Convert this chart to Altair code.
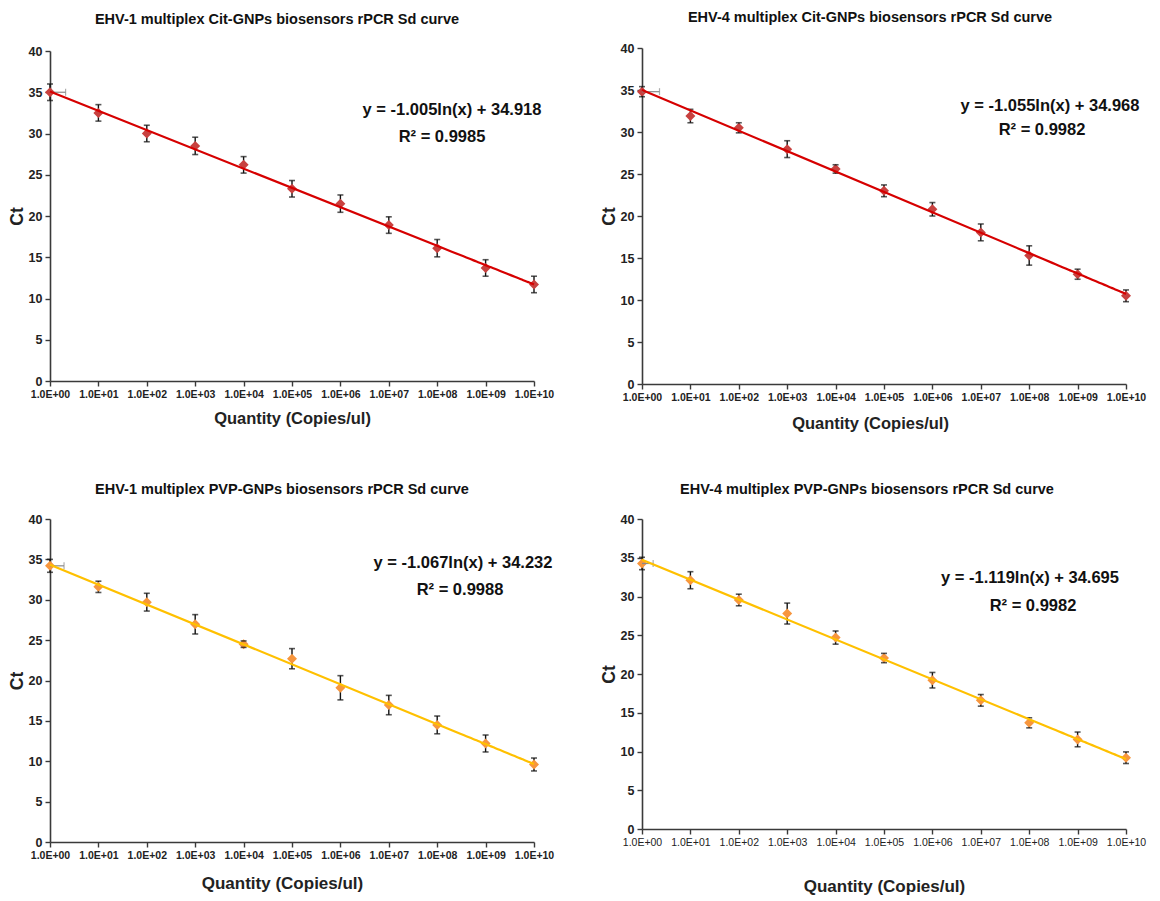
import altair as alt
import pandas as pd

# ---------------- data ----------------
quantities = [1.0, 1e1, 1e2, 1e3, 1e4, 1e5, 1e6, 1e7, 1e8, 1e9, 1e10]

ct_ehv1_cit = [35.0, 32.5, 30.0, 28.5, 26.2, 23.3, 21.5, 18.9, 16.1, 13.7, 11.7]
sd_ehv1_cit = [1.0, 1.0, 1.0, 1.05, 1.0, 1.0, 1.05, 1.0, 1.05, 1.0, 1.0]

ct_ehv4_cit = [34.8, 31.9, 30.5, 27.96, 25.6, 23.0, 20.8, 18.05, 15.3, 13.07, 10.5]
sd_ehv4_cit = [0.6, 0.8, 0.6, 1.0, 0.5, 0.7, 0.8, 1.0, 1.15, 0.6, 0.7]

ct_ehv1_pvp = [34.2, 31.6, 29.7, 26.96, 24.5, 22.7, 19.1, 16.96, 14.5, 12.2, 9.6]
sd_ehv1_pvp = [0.8, 0.7, 1.1, 1.2, 0.4, 1.25, 1.5, 1.2, 1.1, 1.05, 0.8]

ct_ehv4_pvp = [34.26, 32.1, 29.55, 27.8, 24.7, 22.06, 19.2, 16.6, 13.7, 11.56, 9.2]
sd_ehv4_pvp = [0.8, 1.1, 0.75, 1.35, 0.85, 0.6, 1.0, 0.75, 0.65, 0.95, 0.75]

# horizontal (quantity) error of the first point in each panel
x_sd_first = [1.1, 1.3, 0.95, 0.7]

titles = [
    "EHV-1 multiplex Cit-GNPs biosensors rPCR Sd curve",
    "EHV-4 multiplex Cit-GNPs biosensors rPCR Sd curve",
    "EHV-1 multiplex PVP-GNPs biosensors rPCR Sd curve",
    "EHV-4 multiplex PVP-GNPs biosensors rPCR Sd curve",
]
equations = [
    "y = -1.005ln(x) + 34.918",
    "y = -1.055ln(x) + 34.968",
    "y = -1.067ln(x) + 34.232",
    "y = -1.119ln(x) + 34.695",
]
r_squared = ["R² = 0.9985", "R² = 0.9982", "R² = 0.9988", "R² = 0.9982"]
y_ticks = [0, 5, 10, 15, 20, 25, 30, 35, 40]

FONT = "Liberation Sans, Arial, sans-serif"

RED_PT, RED_LINE = "#c8413f", "#d60000"
ORA_PT, ORA_LINE = "#f7963e", "#ffc000"

X_LABEL_EXPR = ("'1.0E+' + (round(log(datum.value)/LN10) >= 10 ? '' : '0') + "
                "format(round(log(datum.value)/LN10), 'd')")

X_SCALE = alt.Scale(type="log", domain=[1, 1e10], nice=False)
Y_SCALE = alt.Scale(domain=[0, 40], nice=False)


def panel(ct, sd, xsd, title, eq, r2, pt_color, line_color, height,
          title_offset, title_dx, xtitle_pad, xtitle_dx, eq_xy, r2_xy,
          xlab_weight="bold", xtitle_size=16.5):
    df = pd.DataFrame({
        "q": quantities,
        "ct": ct,
        "lo": [c - s for c, s in zip(ct, sd)],
        "hi": [c + s for c, s in zip(ct, sd)],
    })
    dfx = pd.DataFrame({"q": [quantities[0]], "q2": [quantities[0] + xsd], "ct": [ct[0]]})

    x_axis = alt.Axis(
        values=quantities, labelExpr=X_LABEL_EXPR, title="Quantity (Copies/ul)",
        titleFont=FONT, titleFontSize=xtitle_size, titleFontWeight="bold",
        titleColor="#222", titlePadding=xtitle_pad, titleX=242 + xtitle_dx,
        labelFont=FONT, labelFontSize=10.5, labelFontWeight=xlab_weight,
        labelColor="#222", labelPadding=3, labelFlush=False, labelOverlap=False,
        grid=False, domainColor="#3a3a3a", domainWidth=1.6, tickColor="#3a3a3a",
        tickWidth=1.4, tickSize=5,
    )
    y_axis = alt.Axis(
        values=y_ticks, title="Ct", titleFont=FONT, titleFontSize=17.5,
        titleFontWeight="bold", titleColor="#222", titlePadding=2,
        labelFont=FONT, labelFontSize=12.5, labelFontWeight="bold",
        labelColor="#222", labelPadding=3, labelOverlap=False, grid=False,
        domainColor="#3a3a3a", domainWidth=1.6, tickColor="#3a3a3a",
        tickWidth=1.4, tickSize=5,
    )

    def X(field):
        return alt.X(field, scale=X_SCALE, axis=x_axis)

    def Y(field):
        return alt.Y(field, scale=Y_SCALE, axis=y_axis)

    base = alt.Chart(df)
    err_rule = base.mark_rule(color="#111", strokeWidth=1.4).encode(
        x=X("q:Q"), y=Y("lo:Q"), y2="hi:Q")
    cap_lo = base.mark_tick(orient="horizontal", size=6, thickness=1.6, color="#111").encode(
        x=X("q:Q"), y=Y("lo:Q"))
    cap_hi = base.mark_tick(orient="horizontal", size=6, thickness=1.6, color="#111").encode(
        x=X("q:Q"), y=Y("hi:Q"))
    xerr = alt.Chart(dfx).mark_rule(color="#8a8a8a", strokeWidth=1.2).encode(
        x=X("q:Q"), x2="q2:Q", y=Y("ct:Q"))
    xcap = alt.Chart(dfx).mark_tick(orient="vertical", size=7, thickness=1.2,
                                    color="#8a8a8a").encode(x=X("q2:Q"), y=Y("ct:Q"))
    pts = base.mark_point(shape="diamond", filled=True, size=100, opacity=1,
                          color=pt_color).encode(x=X("q:Q"), y=Y("ct:Q"))
    trend = base.transform_regression(
        "q", "ct", method="log", extent=[1, 1e10]
    ).mark_line(color=line_color, strokeWidth=2.2).encode(x=X("q:Q"), y=Y("ct:Q"))

    eq_df = pd.DataFrame({"t": [eq]})
    r2_df = pd.DataFrame({"t": [r2]})
    eq_txt = alt.Chart(eq_df).mark_text(
        font=FONT, fontSize=16.5, fontWeight="bold", color="#111", align="center",
        baseline="middle").encode(text="t:N", x=alt.value(eq_xy[0]), y=alt.value(eq_xy[1]))
    r2_txt = alt.Chart(r2_df).mark_text(
        font=FONT, fontSize=16.5, fontWeight="bold", color="#111", align="center",
        baseline="middle").encode(text="t:N", x=alt.value(r2_xy[0]), y=alt.value(r2_xy[1]))

    return alt.layer(
        err_rule, pts, cap_lo, cap_hi, xerr, xcap, trend, eq_txt, r2_txt
    ).properties(
        width=484, height=height,
        title=alt.TitleParams(
            text=title, font=FONT, fontSize=14.5, fontWeight="bold", color="#111",
            anchor="middle", offset=title_offset, dx=title_dx),
    )


p1 = panel(ct_ehv1_cit, sd_ehv1_cit, x_sd_first[0], titles[0], equations[0], r_squared[0],
           RED_PT, RED_LINE, 330, 18, -15, 11, 0, (402, 59), (392, 86))
p2 = panel(ct_ehv4_cit, sd_ehv4_cit, x_sd_first[1], titles[1], equations[1], r_squared[1],
           RED_PT, RED_LINE, 336, 17, -14, 13, -14, (408, 58), (400, 82))
p3 = panel(ct_ehv1_pvp, sd_ehv1_pvp, x_sd_first[2], titles[2], equations[2], r_squared[2],
           ORA_PT, ORA_LINE, 323, 16, -10, 15, -10, (413, 44), (410, 71), xtitle_size=17)
p4 = panel(ct_ehv4_pvp, sd_ehv4_pvp, x_sd_first[3], titles[3], equations[3], r_squared[3],
           ORA_PT, ORA_LINE, 310, 16, -17, 31, 0, (388, 59), (391, 87),
           xlab_weight="normal", xtitle_size=17)

chart = alt.concat(
    p1, p2, p3, p4, columns=2, spacing={"row": 135, "column": 108},
    bounds="flush", center=True,
).properties(
    padding={"left": 0, "top": 1, "right": 2, "bottom": 2},
    background="white",
).configure_view(stroke=None)

chart.save("out.html", embed_options={"renderer": "svg", "actions": False})
